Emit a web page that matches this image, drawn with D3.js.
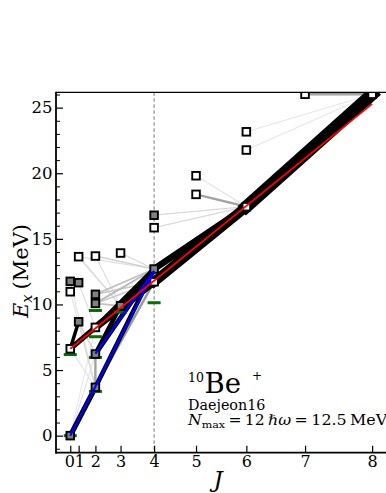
<!DOCTYPE html>
<html><head><meta charset="utf-8">
<script src="https://cdn.jsdelivr.net/npm/d3@7"></script>
<style>
html,body{margin:0;padding:0;background:#fff;}
svg{display:block;font-family:"DejaVu Serif","Liberation Serif",serif;}
</style></head>
<body>
<svg id="c" width="386" height="493"></svg>
<script>
// ---- data ----
const jTicks = [0,1,2,3,4,5,6,7,8];
const eTicks = [0,5,10,15,20,25];
const eMinorTicks = d3.range(-1,27,1);

// calculated levels (open = white square, filled = gray square)
const openJ = [0, 0, 1, 2, 2, 3, 4, 4, 5, 5, 6, 6, 6, 7, 8];
const openE = [6.62, 10.97, 13.64, 8.25, 13.69, 13.92, 11.73, 15.85, 18.39, 19.81, 17.45, 21.77, 23.16, 26.02, 26.02];
const filledJ = [0, 0, 1, 1, 2, 2, 2, 2, 3, 4, 4];
const filledE = [0, 11.76, 11.66, 8.68, 3.68, 6.22, 10.08, 10.77, 9.9, 12.7, 16.8];

// experimental levels
const expJ = [0, 0, 2, 2, 2, 2, 3, 4];
const expE = [0, 6.18, 3.37, 5.96, 7.54, 9.54, 9.42, 10.13];

// E2 transitions: initial J,E -> final J,E, relative strength
const trJi = [0, 0, 1, 0, 0, 0, 1, 1, 1, 2, 2, 2, 2, 2, 1, 1, 2, 3, 2, 4, 4, 5, 5, 6, 6, 7, 2, 2, 0, 2, 2, 2, 3, 2, 2, 4, 2, 4, 6, 0, 0];
const trEi = [0, 0, 8.68, 6.62, 11.76, 10.97, 8.68, 11.66, 13.64, 10.08, 10.77, 10.08, 10.77, 10.08, 13.64, 13.64, 13.69, 13.92, 13.69, 16.8, 15.85, 18.39, 19.81, 21.77, 23.16, 26.02, 3.68, 3.68, 0, 3.68, 6.22, 6.22, 9.9, 8.25, 8.25, 12.7, 8.25, 11.73, 17.45, 6.62, 6.62];
const trJf = [2, 2, 2, 2, 2, 2, 2, 2, 3, 4, 4, 4, 4, 3, 4, 3, 4, 4, 3, 6, 6, 6, 6, 8, 8, 8, 2, 4, 2, 4, 3, 4, 4, 3, 4, 6, 4, 6, 8, 1, 2];
const trEf = [6.22, 8.25, 3.68, 3.68, 3.68, 3.68, 6.22, 8.25, 9.9, 12.7, 12.7, 11.73, 11.73, 9.9, 12.7, 9.9, 12.7, 12.7, 9.9, 17.45, 17.45, 17.45, 17.45, 26.02, 26.02, 26.02, 6.22, 11.73, 3.68, 12.7, 9.9, 12.7, 12.7, 9.9, 12.7, 17.45, 11.73, 17.45, 26.02, 8.68, 8.25];
const trS  = [4, 3, 6, 4, 4, 4, 8, 5, 5, 14, 12, 10, 10, 12, 5, 6, 8, 6, 5, 6, 6, 20, 4, 3, 3, 20, 20, 22, 45, 40, 40, 42, 40, 40, 40, 55, 60, 80, 100, 32, 45];

// rotational band fits E = E0 + A J(J+1)
const fitName = ["ground", "K2", "excited"];
const fitJmin = [0, 2, 0];
const fitJmax = [4, 4, 8];
const fitE0   = [0, 3.55, 6.62];
const fitA    = [0.626, 0.45, 0.2593];

// ---- chart ----
const svg = d3.select("#c");
const L = 56, T = 92.3, B = 452.7, R = 391;
const jj = J => J*(J+1);
const x = d3.scaleLinear().domain([-3.4, 76.5]).range([L, R]);
const y = d3.scaleLinear().domain([-1.3, 26.17]).range([B, T]);

svg.append("defs").append("clipPath").attr("id","clip")
  .append("rect").attr("x",L).attr("y",T).attr("width",R-L).attr("height",B-T);
const g = svg.append("g").attr("clip-path","url(#clip)");

// J=4 dashed marker line
g.append("line").attr("x1",x(jj(4))).attr("x2",x(jj(4))).attr("y1",T).attr("y2",B)
  .attr("stroke","#666").attr("stroke-width",0.9).attr("stroke-dasharray","3.5,2.5");

const wScale = d3.scaleLinear().domain([0,30,100]).range([0.8,3.2,12.5]);
const cScale = d3.scaleLinear().domain([0,22,32]).range(["#f2f2f2","#9a9a9a","#000"]).clamp(true);

const trans = trJi.map((_,i)=>({ji:trJi[i],ei:trEi[i],jf:trJf[i],ef:trEf[i],s:trS[i]}));
trans.sort((a,b)=>a.s-b.s);
g.selectAll("line.tr").data(trans).enter().append("line").attr("class","tr")
  .attr("x1",d=>x(jj(d.ji))).attr("y1",d=>y(d.ei))
  .attr("x2",d=>x(jj(d.jf))).attr("y2",d=>y(d.ef))
  .attr("stroke",d=>cScale(d.s)).attr("stroke-width",d=>wScale(d.s))
  .attr("stroke-linecap",d=>d.s>=30?"square":"butt");

// experimental bars
g.selectAll("rect.exp").data(expJ.map((J,i)=>({J,E:expE[i]}))).enter().append("rect")
  .attr("x",d=>x(jj(d.J))-6.5).attr("y",d=>y(d.E)-1.5).attr("width",13).attr("height",3)
  .attr("fill","#0a6b0a");

// levels
const lev = openJ.map((J,i)=>({J,E:openE[i],f:false}))
  .concat(filledJ.map((J,i)=>({J,E:filledE[i],f:true})));
g.selectAll("rect.lev").data(lev).enter().append("rect")
  .attr("x",d=>x(jj(d.J))-3.8).attr("y",d=>y(d.E)-3.8).attr("width",7.6).attr("height",7.6)
  .attr("fill",d=>d.f?"#808080":"#fff").attr("stroke","#000").attr("stroke-width",1.9);

// band fits
const fitColor = {ground:"#0000ff", K2:"#0000ff", excited:"#ff0000"};
fitName.forEach((n,i)=>{
  const a = fitJmin[i], b = fitJmax[i];
  g.append("line")
    .attr("x1",x(jj(a))).attr("y1",y(fitE0[i]+fitA[i]*jj(a)))
    .attr("x2",x(jj(b))).attr("y2",y(fitE0[i]+fitA[i]*jj(b)))
    .attr("stroke",fitColor[n]).attr("stroke-width",n==="excited"?1.8:2.2);
});

// axes
const FONT = "DejaVu Serif, Liberation Serif, serif";
const ax = svg.append("g");
const xAxis = d3.axisBottom(x).tickValues(jTicks.map(jj)).tickFormat((d,i)=>jTicks[i])
  .tickSizeInner(-7).tickSizeOuter(0).tickPadding(2.5);
const xa = ax.append("g").attr("transform",`translate(0,${B})`).call(xAxis);
xa.select(".domain").remove();
xa.selectAll(".tick line").attr("stroke","#000").attr("stroke-width",1.2);
xa.selectAll(".tick text").attr("font-size",16).attr("font-family",FONT).attr("fill","#000")
  .attr("dx",(d,i)=>i===0?-0.8:(i===1?0.8:0));

const yAxis = d3.axisLeft(y).tickValues(eTicks).tickSizeInner(-7).tickSizeOuter(0).tickPadding(3.5);
const ya = ax.append("g").attr("transform",`translate(${L},0)`).call(yAxis);
ya.select(".domain").remove();
ya.selectAll(".tick line").attr("stroke","#000").attr("stroke-width",1.2);
ya.selectAll(".tick text").attr("font-size",16.5).attr("font-family",FONT).attr("fill","#000");

const yMinor = d3.axisLeft(y).tickValues(eMinorTicks.filter(v=>v%5!==0 && v>-1.3 && v<26.17))
  .tickSizeInner(-4).tickSizeOuter(0).tickFormat("");
const ym = ax.append("g").attr("transform",`translate(${L},0)`).call(yMinor);
ym.select(".domain").remove();
ym.selectAll(".tick line").attr("stroke","#000").attr("stroke-width",1);

// spines
svg.append("line").attr("x1",L).attr("x2",R).attr("y1",T).attr("y2",T).attr("stroke","#000").attr("stroke-width",1.3);
svg.append("line").attr("x1",L).attr("x2",L).attr("y1",T-0.6).attr("y2",B+1).attr("stroke","#000").attr("stroke-width",1.8);
svg.append("line").attr("x1",L).attr("x2",R).attr("y1",B).attr("y2",B).attr("stroke","#000").attr("stroke-width",1.8);

// axis labels
const yl = svg.append("text").attr("transform","translate(28,271) rotate(-90)")
  .attr("text-anchor","middle").attr("font-size",21).attr("fill","#000");
yl.append("tspan").attr("font-style","italic").text("E");
yl.append("tspan").attr("font-style","italic").attr("font-size",14.5).attr("dy",4).text("x");
yl.append("tspan").attr("dy",-4).attr("dx",5).text("(MeV)");

svg.append("text").attr("x",218).attr("y",487).attr("text-anchor","middle")
  .attr("font-size",23).attr("font-style","italic").attr("fill","#000").text("J");

// helper: stretch a text so that it spans a given width
function fitText(sel, x0, y0, width){
  const w = sel.node().getComputedTextLength();
  const s = w > 0 ? width / w : 1;
  sel.attr("transform",`translate(${x0},${y0}) scale(${s},1)`);
}

// annotation
const t1 = svg.append("text").attr("y",393).attr("fill","#000");
t1.append("tspan").attr("x",188).attr("dy",-11).attr("font-size",12.5).text("10");
t1.append("tspan").attr("x",204.5).attr("dy",11).attr("font-size",27.5).text("Be");
t1.append("tspan").attr("x",252).attr("dy",-13).attr("font-size",12).text("+");

svg.append("text").attr("x",188).attr("y",410).attr("font-size",14.3).attr("fill","#000").text("Daejeon16");

const t3 = svg.append("text").attr("x",0).attr("y",0).attr("font-size",14).attr("fill","#000");
t3.append("tspan").attr("font-style","italic").text("N");
t3.append("tspan").attr("font-size",10).attr("dy",3).text("max");
t3.append("tspan").attr("dy",-3).attr("dx",3).text("=");
t3.append("tspan").attr("dx",3).text("12");
fitText(t3, 188, 425, 70);

const t4 = svg.append("text").attr("x",0).attr("y",0).attr("font-size",14).attr("fill","#000");
t4.append("tspan").attr("font-style","italic").text("ℏω");
t4.append("tspan").attr("dx",3).text("=");
t4.append("tspan").attr("dx",3).text("12.5");
t4.append("tspan").attr("dx",3).text("MeV");
fitText(t4, 268, 425, 109);
</script>
</body></html>
